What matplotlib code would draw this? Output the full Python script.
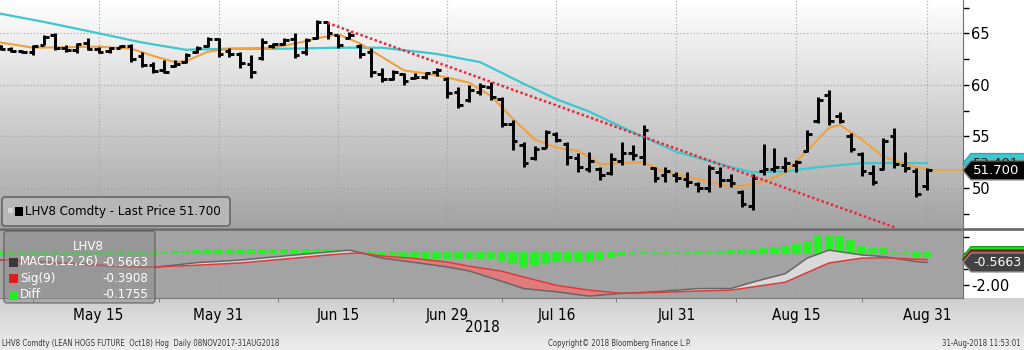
import numpy as np
import pandas as pd
import matplotlib
matplotlib.use('Agg')
import matplotlib.pyplot as plt
from matplotlib.colors import LinearSegmentedColormap
from matplotlib.patches import Polygon, FancyBboxPatch, Rectangle
from matplotlib.transforms import IdentityTransform

# trading days, exchange closed on Memorial Day and Jul 4
days = pd.bdate_range('2018-05-02', '2018-08-31')
days = days[~days.isin(pd.to_datetime(['2018-05-28', '2018-07-04']))]

opens = [63.8, 63.5, 63.3, 63.2, 63.9, 64.8, 63.6, 63.4, 64.1, 63.5,
         63.3, 63.6, 63.8, 62.8, 61.9, 61.4, 61.8, 62.2, 63.2, 63.8,
         64.4, 63.3, 63.0, 62.0, 62.6, 63.8, 64.0, 64.4, 63.2, 64.5,
         66.1, 64.8, 64.5, 63.8, 63.2, 61.0, 60.6, 61.0, 60.7, 60.8,
         61.2, 60.6, 59.3, 58.5, 59.3, 59.8, 58.6, 56.2, 54.2, 52.9,
         53.9, 55.2, 54.3, 52.9, 51.8, 51.8, 51.4, 52.6, 53.4, 53.0,
         51.9, 51.2, 51.2, 50.9, 50.4, 50.0, 51.5, 50.8, 49.6, 48.2,
         51.6, 51.8, 52.0, 52.2, 53.6, 56.5, 59.0, 57.0, 55.0, 53.3,
         51.4, 51.8, 55.0, 52.2, 51.6, 50.2]
highs = [63.9, 63.7, 63.4, 63.9, 64.8, 65.0, 63.9, 64.1, 64.5, 63.7,
         63.7, 63.9, 64.0, 63.2, 62.2, 62.4, 62.4, 63.1, 63.8, 64.6,
         64.5, 63.6, 63.2, 62.9, 64.5, 64.1, 64.5, 65.0, 64.5, 66.3,
         66.1, 64.8, 65.1, 64.0, 63.6, 61.6, 61.4, 61.1, 61.1, 61.2,
         61.6, 60.8, 59.8, 60.0, 60.2, 60.3, 58.8, 56.6, 54.4, 54.1,
         55.6, 55.4, 54.4, 53.4, 53.5, 52.0, 53.4, 54.4, 54.2, 56.1,
         52.0, 52.0, 51.5, 51.5, 50.6, 52.2, 52.0, 51.3, 49.8, 51.3,
         54.3, 53.9, 53.0, 52.7, 55.6, 58.8, 59.5, 57.4, 55.3, 53.5,
         52.2, 54.8, 55.8, 53.5, 51.9, 51.9]
lows = [63.4, 63.2, 63.1, 62.9, 63.9, 63.4, 63.2, 63.1, 63.4, 63.1,
        63.1, 63.6, 62.2, 61.7, 61.1, 61.1, 61.7, 62.1, 63.1, 63.7,
        62.7, 62.7, 61.6, 60.7, 62.4, 63.6, 63.9, 62.6, 62.9, 64.4,
        64.4, 63.6, 64.4, 62.6, 60.8, 60.3, 60.5, 60.0, 60.6, 60.6,
        60.9, 58.7, 57.7, 58.3, 59.0, 58.5, 55.9, 53.7, 52.0, 52.7,
        53.9, 54.4, 52.2, 51.5, 51.5, 50.8, 51.2, 52.2, 52.7, 52.2,
        50.6, 50.6, 50.6, 50.1, 49.6, 49.6, 50.1, 50.1, 48.1, 47.8,
        51.2, 51.5, 51.5, 51.5, 53.5, 56.3, 56.1, 56.3, 53.5, 51.1,
        50.3, 51.7, 51.9, 51.5, 49.1, 49.8]
closes = [63.5, 63.3, 63.2, 63.8, 64.6, 63.6, 63.4, 64.0, 63.5, 63.2,
          63.6, 63.8, 62.5, 61.9, 61.3, 61.2, 62.0, 62.9, 63.6, 64.4,
          63.0, 63.0, 62.1, 61.2, 64.2, 64.0, 64.3, 62.9, 64.3, 66.1,
          65.0, 63.9, 64.8, 63.0, 61.2, 60.6, 61.2, 60.4, 60.8, 61.1,
          61.4, 59.2, 58.0, 59.5, 59.9, 58.8, 56.2, 54.5, 52.4, 53.8,
          55.4, 54.6, 53.0, 52.0, 52.6, 51.2, 52.8, 53.4, 53.2, 55.6,
          51.0, 51.6, 51.0, 50.6, 50.0, 51.9, 50.8, 50.5, 48.4, 51.0,
          51.8, 52.0, 52.4, 52.5, 55.2, 58.5, 56.5, 56.5, 53.8, 51.6,
          50.6, 54.5, 52.3, 51.9, 49.4, 51.7]

# moving averages (trading-day index, price)
fast_idx = [0, 3, 9, 12, 14, 16, 17, 19, 21, 25, 27, 29, 31, 33, 35, 37, 39, 41, 43, 45,
            47, 49, 51, 53, 55, 57, 59, 61, 63, 65, 67, 69, 71, 72, 74, 76, 77, 79, 81, 84, 85]
fast_val = [64.1, 63.6, 63.7, 63.5, 62.8, 62.2, 62.3, 63.2, 63.5, 63.6, 64.0, 64.5, 64.9, 64.0, 62.7,
            61.4, 61.1, 60.7, 60.2, 58.9, 56.7, 54.7, 53.9, 53.6, 52.3, 52.4, 52.5, 51.5, 51.1, 50.6,
            50.1, 50.3, 51.0, 51.5, 53.6, 55.8, 56.1, 54.7, 53.0, 52.0, 51.8]
slow_idx = [-1, 4, 9, 13, 17, 21, 26, 31, 35, 40, 44, 48, 51, 54, 58, 62, 66, 69, 72, 75, 79, 85]
slow_val = [67.1, 66.1, 65.0, 64.1, 63.4, 63.5, 63.5, 63.6, 63.6, 63.0, 62.2, 60.1, 58.6, 57.4,
            55.4, 53.5, 52.3, 51.5, 51.6, 52.0, 52.4, 52.401]

trend_idx = [30, 82.2]
trend_val = [66.0, 46.1]

# MACD(12,26) and Sig(9), sampled
macd_idx = [0, 5, 10, 14, 18, 22, 27, 30, 32, 33, 35, 38, 41, 43, 46, 48, 51, 54, 57, 60,
            64, 67, 69, 72, 74, 76, 77, 79, 81, 82, 84, 85]
macd_val = [-0.42, -0.60, -0.80, -0.88, -0.58, -0.42, -0.10, 0.08, 0.20, 0.05, -0.30, -0.57,
            -0.85, -1.10, -1.75, -2.20, -2.40, -2.67, -2.50, -2.40, -2.20, -2.20, -1.80, -1.27,
            -0.30, 0.20, 0.10, -0.10, -0.20, -0.30, -0.52, -0.5663]
sig_val = [-0.40, -0.55, -0.75, -0.85, -0.74, -0.60, -0.30, -0.10, 0.00, 0.02, -0.17, -0.32,
           -0.55, -0.80, -1.12, -1.48, -2.00, -2.30, -2.50, -2.45, -2.35, -2.30, -2.10, -1.80,
           -1.20, -0.60, -0.50, -0.30, -0.28, -0.30, -0.36, -0.3908]
diff_val = [-0.05, -0.05, -0.05, -0.06, -0.06, -0.05, -0.05, -0.05, -0.05, -0.05,
            -0.04, -0.04, -0.04, -0.03, -0.03, 0.02, 0.06, 0.10, 0.16, 0.18,
            0.18, 0.18, 0.18, 0.20, 0.20, 0.20, 0.20, 0.20, 0.22, 0.22,
            0.20, 0.20, 0.20, 0.03, -0.10, -0.13, -0.18, -0.20, -0.25, -0.27,
            -0.28, -0.30, -0.30, -0.30, -0.30, -0.32, -0.40, -0.60, -0.80, -0.75,
            -0.60, -0.50, -0.50, -0.45, -0.40, -0.35, -0.20, -0.10, 0.02, 0.03,
            0.03, 0.03, 0.04, 0.05, 0.08, 0.10, 0.10, 0.12, 0.15, 0.20,
            0.25, 0.35, 0.40, 0.50, 0.70, 1.10, 1.10, 1.00, 0.80, 0.40,
            0.25, 0.25, 0.05, 0.00, -0.15, -0.1755]

tick_dates = ['2018-05-15', '2018-05-31', '2018-06-15', '2018-06-29',
              '2018-07-16', '2018-07-31', '2018-08-15', '2018-08-31']
tick_labels = ['May 15', 'May 31', 'Jun 15', 'Jun 29', 'Jul 16', 'Jul 31', 'Aug 15', 'Aug 31']

x = np.arange(len(days))
tick_pos = [days.get_loc(pd.Timestamp(d)) for d in tick_dates]
minor_pos = [3, 14.5, 25.5, 36, 46, 56.5, 67.5, 79]

W, H = 1024, 350
PIX = IdentityTransform()
cond = dict(family='DejaVu Sans', stretch='condensed')

fig = plt.figure(figsize=(W / 100, H / 100), dpi=100, facecolor='white')

# bottom strip behind the date labels
bg = fig.add_axes([0, 0, 1, 1 - 298 / H], zorder=-1)
bg.imshow(np.linspace(0, 1, 64).reshape(-1, 1), aspect='auto', extent=[0, 1, 0, 1],
          cmap=LinearSegmentedColormap.from_list('s', ['#cfcfcf', '#ededed']))
bg.axis('off')

ax = fig.add_axes([0, 1 - 228 / H, 963 / W, 228 / H])
ax2 = fig.add_axes([0, 1 - 298 / H, 963 / W, 68 / H])

ax.imshow(np.linspace(0, 1, 256).reshape(-1, 1), aspect='auto', extent=[0, 1, 0, 1],
          transform=ax.transAxes, zorder=0,
          cmap=LinearSegmentedColormap.from_list('g', ['#ffffff', '#a3a3a3']))
ax2.set_facecolor('#a3a3a3')

xmin, xmax = -0.05, 88.3
for a in (ax, ax2):
    a.set_xlim(xmin, xmax)
    for s in ('left', 'top'):
        a.spines[s].set_visible(False)
    a.spines['right'].set_color('#6f6f6f')
    a.spines['bottom'].set_color('#7a7a7a')
    a.yaxis.tick_right()
    a.set_xticks(tick_pos)
    a.grid(True, which='major', ls=(0, (1, 2)), color='#a2a2a2', lw=0.8, zorder=1)

# price panel
ax.set_ylim(46.1, 68.23)
ax.set_yticks([50, 55, 60, 65])
ax.set_yticks([47.5, 52.5, 57.5, 62.5, 67.5], minor=True)
ax.tick_params(axis='y', which='both', direction='out', length=4, width=1, colors='black',
               labelsize=10.5, pad=2)
ax.tick_params(axis='x', length=0, labelbottom=False)
ax.spines['bottom'].set_visible(False)

ax.plot(slow_idx, slow_val, color='#3ec7cf', lw=1.6, zorder=3)
ax.plot(fast_idx, fast_val, color='#f0a13b', lw=1.5, zorder=3)
ax.hlines(closes[-1], x[-1], xmax, color='#f0a13b', lw=1.3, zorder=3)
ax.vlines(x, lows, highs, color='black', lw=2.1, zorder=4)
ax.hlines(opens, x - 0.42, x, color='black', lw=2.1, zorder=4)
ax.hlines(closes, x, x + 0.42, color='black', lw=2.1, zorder=4)
ax.plot(trend_idx, trend_val, color='#e8283c', lw=1.8, ls=(0, (1, 1)), zorder=5)

# MACD panel
ax2.set_ylim(-2.79, 1.46)
ax2.set_yticks([-2, 0, 1])
ax2.set_yticklabels(['-2.00', '', ''])
ax2.set_yticks([-1], minor=True)
ax2.tick_params(axis='y', which='both', direction='out', length=4, width=1, colors='black',
                labelsize=10.5, pad=2)
ax2.grid(False, axis='y')
ax2.bar(x, diff_val, width=0.62, color='#26f026', edgecolor='#26f026', lw=1.2, zorder=2)
m = np.array(macd_val)
s = np.array(sig_val)
ax2.fill_between(macd_idx, m, s, where=m < s, interpolate=True, color='#e07c7c', lw=0, zorder=3)
ax2.fill_between(macd_idx, m, s, where=m >= s, interpolate=True, color='#d9d9d9', lw=0, zorder=3)
ax2.plot(macd_idx, macd_val, color='#666666', lw=1.1, zorder=4)
ax2.plot(macd_idx, sig_val, color='#e03a3a', lw=1.1, zorder=4)

ax2.set_xticks(tick_pos)
ax2.set_xticklabels(tick_labels, fontsize=11, **cond)
ax2.set_xticks(minor_pos, minor=True)
ax2.tick_params(axis='x', which='major', length=0, pad=7)
ax2.tick_params(axis='x', which='minor', direction='out', length=3, color='#6a6a6a')

fig.add_artist(plt.Line2D([0, W], [H - 229, H - 229], transform=PIX, color='#6e6e6e', lw=2, zorder=6))


def tag(axis, val, label, fc, tc, ec, size=9.5):
    yd = axis.transData.transform((0, val))[1]
    x0 = 963
    pts = [(x0, yd), (x0 + 8, yd + 9.5), (W + 2, yd + 9.5), (W + 2, yd - 9.5), (x0 + 8, yd - 9.5)]
    fig.add_artist(Polygon(pts, closed=True, transform=PIX, facecolor=fc, edgecolor=ec,
                           lw=1, zorder=10))
    return fig.text(x0 + 10, yd, label, transform=PIX, color=tc, fontsize=size, va='center',
                    ha='left', zorder=11)


t_slow = tag(ax, slow_val[-1], '52.401', '#3ec7cf', '#202020', '#2aa8b0')
# only the upper strip of the cyan tag shows above the last-price tag
y_last = ax.transData.transform((0, closes[-1]))[1]
t_slow.set_clip_path(Rectangle((963, y_last + 9.5), 70, 30, transform=PIX))
tag(ax, closes[-1], '51.700', '#050505', 'white', '#7a7a7a')
tag(ax2, diff_val[-1], '', '#26e026', 'white', '#1aa01a')
tag(ax2, sig_val[-1], '', '#b02020', 'white', '#801010')
tag(ax2, macd_val[-1], '-0.5663', '#424242', 'white', '#8a8a8a', size=9)

# legend boxes
fig.add_artist(FancyBboxPatch((2, H - 226), 228, 29, boxstyle='round,pad=0,rounding_size=3',
                              transform=PIX, facecolor='#b7b7b7', edgecolor='#666666', lw=1.2,
                              zorder=8))
fig.add_artist(Rectangle((8, H - 213), 5, 5, transform=PIX, facecolor='#d6d6d6', lw=0, zorder=9))
fig.add_artist(Rectangle((15, H - 216), 8, 9, transform=PIX, facecolor='black', lw=0, zorder=9))
fig.text(25, H - 211, 'LHV8 Comdty - Last Price 51.700', transform=PIX, fontsize=8.6,
         va='center', ha='left', color='black', zorder=9)

fig.add_artist(FancyBboxPatch((4, H - 303), 151, 72, boxstyle='round,pad=0,rounding_size=3',
                              transform=PIX, facecolor='#8f8f8f', alpha=0.55, edgecolor='#4e4e4e',
                              lw=1.2, zorder=8))
fig.text(88, H - 247, 'LHV8', transform=PIX, fontsize=8.6, va='center', ha='center',
         color='white', zorder=9)
rows = [('MACD(12,26)', '-0.5663', '#3a3a3a'), ('Sig(9)', '-0.3908', '#e01c1c'),
        ('Diff', '-0.1755', '#22ee22')]
for k, (name, v, c) in enumerate(rows):
    yy = H - 262 - 16.5 * k
    fig.add_artist(Rectangle((9, yy - 4.5), 9, 9, transform=PIX, facecolor=c, lw=0, zorder=9))
    fig.text(20, yy, name, transform=PIX, fontsize=8.6, va='center', ha='left', color='white',
             zorder=9)
    fig.text(148, yy, v, transform=PIX, fontsize=8.6, va='center', ha='right', color='white',
             zorder=9)

fig.text(482, H - 328, '2018', transform=PIX, fontsize=11, ha='center',
         va='center', color='black', **cond)
fig.text(2, H - 343, 'LHV8 Comdty (LEAN HOGS FUTURE  Oct18) Hog  Daily 08NOV2017-31AUG2018',
         transform=PIX, fontsize=5.6, ha='left', va='center', color='#3a3a3a', **cond)
fig.text(620, H - 343, 'Copyright\u00a9 2018 Bloomberg Finance L.P.', transform=PIX,
         fontsize=5.6, ha='center', va='center', color='#3a3a3a', **cond)
fig.text(1021, H - 343, '31-Aug-2018 11:53:01', transform=PIX, fontsize=5.6,
         ha='right', va='center', color='#3a3a3a', **cond)

fig.savefig('out.png', dpi=100, facecolor=fig.get_facecolor())
